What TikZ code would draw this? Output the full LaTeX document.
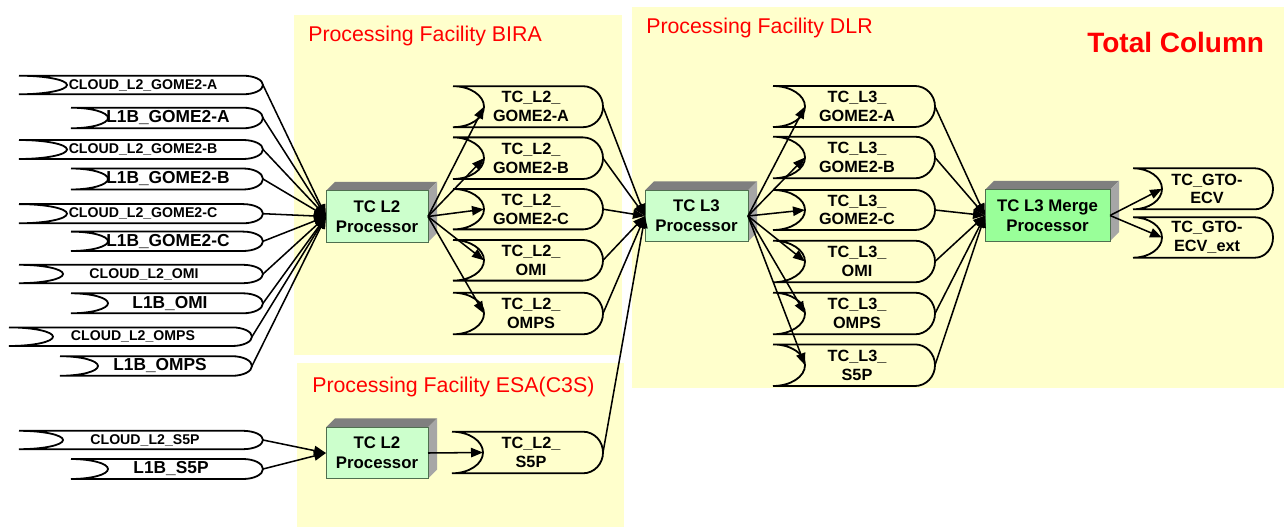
\documentclass[tikz,border=0pt]{standalone}
\usepackage{fontspec}
\setmainfont{Liberation Sans}
\usetikzlibrary{arrows.meta}
\definecolor{panelc}{HTML}{FFFFCC}
\definecolor{procc}{HTML}{CCFFCC}
\definecolor{mergec}{HTML}{99FF99}
\definecolor{topc}{HTML}{7F7F7F}
\definecolor{sidec}{HTML}{A6A6A6}
\definecolor{titlec}{HTML}{FF0000}
\definecolor{procborderc}{HTML}{4F6F4F}
\tikzset{
  panel/.style={fill=panelc},
  storeline/.style={draw=black, line width=1.35pt},
  conn/.style={draw=black, line width=1.15pt, -{Triangle[length=9pt,width=7pt]}},
  cloudtxt/.style={font=\bfseries\fontsize{10.6}{12}\selectfont, inner sep=0pt},
  lbtxt/.style={font=\bfseries\fontsize{13}{15}\selectfont, inner sep=0pt},
  tctxt/.style={font=\bfseries\fontsize{12.2}{14}\selectfont, align=center, inner sep=0pt},
  procnode/.style={fill=procc, draw=procborderc, line width=0.6pt, minimum width=76.5pt,
    minimum height=38.5pt, inner sep=0pt, outer sep=0pt, align=center,
    font=\bfseries\fontsize{12.6}{15}\selectfont},
  paneltitle/.style={text=titlec, font=\fontsize{16}{19}\selectfont, anchor=base west, inner sep=0pt},
}
\newcommand{\dstore}[7]{%
  \draw[storeline] (#2,#4-#5) -- (#3-#7,#4-#5)
    arc[start angle=-90,end angle=90,x radius=#7,y radius=#5]
    -- (#2,#4+#5)
    arc[start angle=90,end angle=-90,x radius=#6,y radius=#5];
  \coordinate (#1-in) at (#2+#6,#4);
  \coordinate (#1-out) at (#3,#4);
}
\newcommand{\procfaces}[1]{%
  \fill[topc] (#1.north west) -- ([xshift=6.75pt,yshift=6.75pt]#1.north west)
    -- ([xshift=6.75pt,yshift=6.75pt]#1.north east) -- (#1.north east) -- cycle;
  \fill[sidec] (#1.north east) -- ([xshift=6.75pt,yshift=6.75pt]#1.north east)
    -- ([xshift=6.75pt,yshift=6.75pt]#1.south east) -- (#1.south east) -- cycle;
  \draw[procborderc, line width=0.6pt] (#1.north west) rectangle (#1.south east);
}
\begin{document}
\begin{tikzpicture}[x=0.75pt,y=-0.75pt]
\useasboundingbox (0,0) rectangle (1284,527);
% panels
\fill[panel] (294,15) rectangle (622,355);
\fill[panel] (297,363) rectangle (624,527);
\fill[panel] (632,7) rectangle (1284,388);
\node[paneltitle] (tbira) at (308,41.7) {Processing Facility BIRA};
\node[paneltitle] (tdlr) at (646,33.3) {Processing Facility DLR};
\node[paneltitle] (tesa) at (312,392) {Processing Facility ESA(C3S)};
\node[text=titlec, font=\bfseries\fontsize{21}{25}\selectfont, anchor=base west, inner sep=0pt] (ttc) at (1087,52.7) {Total Column};

% input stores
\dstore{cA}{19}{263}{85}{9.3}{48}{20}
\node[cloudtxt] (cAt) at (143,85) {CLOUD\_L2\_GOME2-A};
\dstore{lA}{71}{263}{118}{10.3}{37}{20}
\node[lbtxt] (lAt) at (168,118) {L1B\_GOME2-A};
\dstore{cB}{19}{263}{149.5}{9.5}{48}{20}
\node[cloudtxt] (cBt) at (143,149.5) {CLOUD\_L2\_GOME2-B};
\dstore{lB}{71}{263}{179}{10.5}{37}{20}
\node[lbtxt] (lBt) at (168,179) {L1B\_GOME2-B};
\dstore{cC}{19}{263}{213.7}{9.6}{48}{20}
\node[cloudtxt] (cCt) at (143,213.7) {CLOUD\_L2\_GOME2-C};
\dstore{lC}{71}{263}{241.3}{9.7}{37}{20}
\node[lbtxt] (lCt) at (168,241.3) {L1B\_GOME2-C};
\dstore{cO}{19}{263}{274}{9.2}{44}{20}
\node[cloudtxt] (cOt) at (144,274) {CLOUD\_L2\_OMI};
\dstore{lO}{71}{263}{303.3}{10}{37}{20}
\node[lbtxt] (lOt) at (170,303.3) {L1B\_OMI};
\dstore{cP}{9}{252}{336.7}{9.3}{44}{20}
\node[cloudtxt] (cPt) at (133,336.7) {CLOUD\_L2\_OMPS};
\dstore{lP}{60}{252}{366}{9.8}{38}{20}
\node[lbtxt] (lPt) at (160,366) {L1B\_OMPS};
\dstore{cS}{19}{263}{440}{9.2}{44}{20}
\node[cloudtxt] (cSt) at (145,440) {CLOUD\_L2\_S5P};
\dstore{lS}{71}{263}{469}{10}{37}{20}
\node[lbtxt] (lSt) at (171,469) {L1B\_S5P};

% processors
\node[procnode] (p1) at (377,216.5) {TC L2\\Processor};
\procfaces{p1}
\node[procnode] (p2) at (377,453) {TC L2\\Processor};
\procfaces{p2}
\node[procnode, minimum width=77.25pt] (p3) at (696.5,216) {TC L3\\Processor};
\procfaces{p3}
\node[procnode, fill=mergec, minimum width=93.75pt] (p4) at (1047.5,215.5) {TC L3 Merge\\Processor};
\procfaces{p4}

% TC L2 stores
\dstore{t2A}{453}{603}{106.7}{20.5}{31}{20}
\node[tctxt] (t2At) at (531,106.7) {TC\_L2\_\\GOME2-A};
\dstore{t2B}{453}{603}{158.2}{20.8}{31}{20}
\node[tctxt] (t2Bt) at (531,158.2) {TC\_L2\_\\GOME2-B};
\dstore{t2C}{453}{603}{209.2}{20.2}{31}{20}
\node[tctxt] (t2Ct) at (531,209.2) {TC\_L2\_\\GOME2-C};
\dstore{t2O}{453}{603}{260.3}{20.3}{31}{20}
\node[tctxt] (t2Ot) at (531,260.3) {TC\_L2\_\\OMI};
\dstore{t2P}{453}{603}{313.5}{20.8}{31}{20}
\node[tctxt] (t2Pt) at (531,313.5) {TC\_L2\_\\OMPS};
\dstore{t2S}{452}{603}{452.5}{20.8}{31}{20}
\node[tctxt] (t2St) at (531,452.5) {TC\_L2\_\\S5P};

% TC L3 stores
\dstore{t3A}{773}{935}{106.5}{20.5}{32}{20}
\node[tctxt] (t3At) at (857,106.5) {TC\_L3\_\\GOME2-A};
\dstore{t3B}{773}{935}{157.5}{20.8}{32}{20}
\node[tctxt] (t3Bt) at (857,157.5) {TC\_L3\_\\GOME2-B};
\dstore{t3C}{773}{935}{210}{20}{32}{20}
\node[tctxt] (t3Ct) at (857,210) {TC\_L3\_\\GOME2-C};
\dstore{t3O}{773}{935}{261.5}{20.8}{32}{20}
\node[tctxt] (t3Ot) at (857,261.5) {TC\_L3\_\\OMI};
\dstore{t3P}{773}{935}{313.5}{20.8}{32}{20}
\node[tctxt] (t3Pt) at (857,313.5) {TC\_L3\_\\OMPS};
\dstore{t3S}{773}{935}{365.2}{20.8}{32}{20}
\node[tctxt] (t3St) at (857,365.2) {TC\_L3\_\\S5P};

% output stores
\dstore{g1}{1133}{1273}{188.8}{20.5}{29}{18}
\node[tctxt] (g1t) at (1207,188.8) {TC\_GTO-\\ECV};
\dstore{g2}{1133}{1273}{237.5}{20.2}{29}{18}
\node[tctxt] (g2t) at (1207,237.5) {TC\_GTO-\\ECV\_ext};

% connectors
\foreach \s in {cA,lA,cB,lB,cC,lC,cO,lO,cP,lP} \draw[conn] (\s-out) -- (p1.west);
\foreach \s in {cS,lS} \draw[conn] (\s-out) -- (p2.west);
\foreach \s in {t2A,t2B,t2C,t2O,t2P} \draw[conn] (p1.east) -- (\s-in);
\draw[conn] (p2.east) -- (t2S-in);
\foreach \s in {t2A,t2B,t2C,t2O,t2P,t2S} \draw[conn] (\s-out) -- (p3.west);
\foreach \s in {t3A,t3B,t3C,t3O,t3P,t3S} \draw[conn] (p3.east) -- (\s-in);
\foreach \s in {t3A,t3B,t3C,t3O,t3P,t3S} \draw[conn] (\s-out) -- (p4.west);
\foreach \s in {g1,g2} \draw[conn] (p4.east) -- (\s-in);
\end{tikzpicture}
\end{document}
